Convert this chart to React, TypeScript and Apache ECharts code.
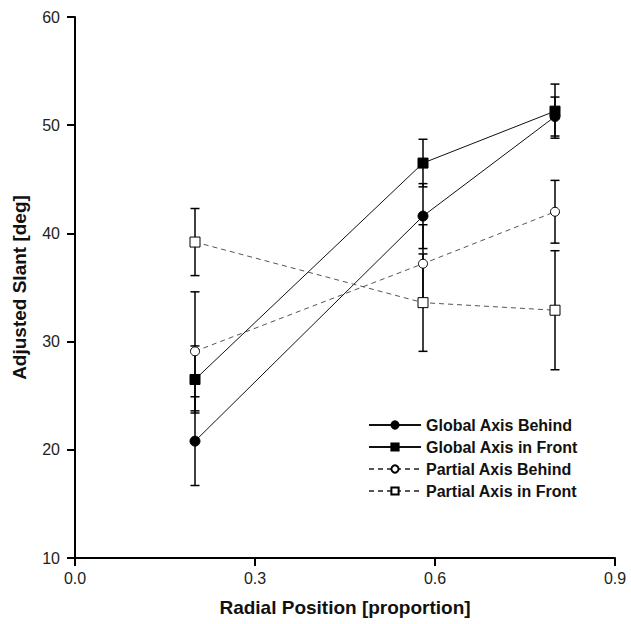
import React, { useEffect, useRef } from "react";
import * as echarts from "echarts";

const xPositions = [0.2, 0.58, 0.8];

const globalBehind = [20.8, 41.6, 50.8];
const globalBehindErr = [4.1, 3.0, 1.8];
const globalFront = [26.5, 46.5, 51.3];
const globalFrontErr = [3.1, 2.2, 2.5];
const partialBehind = [29.1, 37.2, 42.0];
const partialBehindErr = [5.5, 3.6, 2.9];
const partialFront = [39.2, 33.6, 32.9];
const partialFrontErr = [3.1, 4.5, 5.5];

const seriesNames = [
  "Global Axis Behind",
  "Global Axis in Front",
  "Partial Axis Behind",
  "Partial Axis in Front",
];

const xTicks = [0, 0.3, 0.6, 0.9];
const yTicks = [10, 20, 30, 40, 50, 60];

const FONT = "'Liberation Sans', Arial, Helvetica, sans-serif";

export default function App() {
  const ref = useRef<HTMLDivElement>(null);

  useEffect(() => {
    if (!ref.current) return;
    const chart = echarts.init(ref.current, null, { renderer: "svg" });

    const groups = [
      { vals: globalBehind, errs: globalBehindErr },
      { vals: globalFront, errs: globalFrontErr },
      { vals: partialBehind, errs: partialBehindErr },
      { vals: partialFront, errs: partialFrontErr },
    ];
    const errData: number[][] = [];
    groups.forEach((g) => {
      g.vals.forEach((v, i) => {
        errData.push([xPositions[i], v - g.errs[i], v + g.errs[i]]);
      });
    });

    const mk = (vals: number[]) => vals.map((v, i) => [xPositions[i], v]);

    const solid = { color: "#111", width: 1, type: "solid" as const };
    const dashed = { color: "#555", width: 1, type: [5, 4] as any };

    chart.setOption({
      animation: false,
      backgroundColor: "#fff",
      grid: { left: 75, right: 16, top: 17, bottom: 66, containLabel: false },
      xAxis: {
        type: "value",
        min: xTicks[0],
        max: xTicks[xTicks.length - 1],
        interval: 0.3,
        name: "Radial Position [proportion]",
        nameLocation: "middle",
        nameGap: 40,
        nameTextStyle: { fontFamily: FONT, fontSize: 19, fontWeight: "bold", color: "#111" },
        axisLine: { onZero: false, lineStyle: { color: "#000", width: 2 } },
        axisTick: { length: 8, lineStyle: { color: "#000", width: 2 } },
        axisLabel: {
          fontFamily: FONT,
          fontSize: 16,
          color: "#222",
          margin: 12,
          formatter: (v: number) => v.toFixed(1),
        },
        splitLine: { show: false },
      },
      yAxis: {
        type: "value",
        min: yTicks[0],
        max: yTicks[yTicks.length - 1],
        interval: 10,
        name: "Adjusted Slant [deg]",
        nameLocation: "middle",
        nameGap: 46,
        nameTextStyle: { fontFamily: FONT, fontSize: 19, fontWeight: "bold", color: "#111" },
        axisLine: { lineStyle: { color: "#000", width: 2 } },
        axisTick: { length: 8, lineStyle: { color: "#000", width: 2 } },
        axisLabel: { fontFamily: FONT, fontSize: 16, color: "#222", margin: 15 },
        splitLine: { show: false },
      },
      legend: {
        orient: "vertical",
        left: 363,
        top: 412,
        itemWidth: 52,
        itemHeight: 9,
        itemGap: 6,
        textStyle: { fontFamily: FONT, fontSize: 16, fontWeight: "bold", color: "#111", lineHeight: 16 },
        data: seriesNames,
      },
      series: [
        {
          type: "custom",
          name: "errors",
          z: 1,
          renderItem: (params: any, api: any) => {
            const x = api.value(0);
            const lo = api.coord([x, api.value(1)]);
            const hi = api.coord([x, api.value(2)]);
            const w = 4.5;
            const st = { stroke: "#000", lineWidth: 1.5 };
            return {
              type: "group",
              children: [
                { type: "line", shape: { x1: lo[0], y1: lo[1], x2: hi[0], y2: hi[1] }, style: st },
                { type: "line", shape: { x1: lo[0] - w, y1: lo[1], x2: lo[0] + w, y2: lo[1] }, style: st },
                { type: "line", shape: { x1: hi[0] - w, y1: hi[1], x2: hi[0] + w, y2: hi[1] }, style: st },
              ],
            };
          },
          data: errData,
          encode: { x: 0, y: [1, 2] },
        },
        {
          type: "line",
          name: seriesNames[0],
          z: 3,
          data: mk(globalBehind),
          symbol: "circle",
          symbolSize: 10,
          lineStyle: solid,
          itemStyle: { color: "#000", borderColor: "#000", borderWidth: 1 },
        },
        {
          type: "line",
          name: seriesNames[1],
          z: 3,
          data: mk(globalFront),
          symbol: "rect",
          symbolSize: 10,
          lineStyle: solid,
          itemStyle: { color: "#000", borderColor: "#000", borderWidth: 1 },
        },
        {
          type: "line",
          name: seriesNames[2],
          z: 3,
          data: mk(partialBehind),
          symbol: "circle",
          symbolSize: 9,
          lineStyle: dashed,
          itemStyle: { color: "#fff", borderColor: "#000", borderWidth: 1 },
        },
        {
          type: "line",
          name: seriesNames[3],
          z: 3,
          data: mk(partialFront),
          symbol: "rect",
          symbolSize: 10,
          lineStyle: dashed,
          itemStyle: { color: "#fff", borderColor: "#000", borderWidth: 1 },
        },
      ],
    });

    return () => chart.dispose();
  }, []);

  return <div ref={ref} style={{ width: 631, height: 624, position: "absolute", left: 0, top: 0 }} />;
}
